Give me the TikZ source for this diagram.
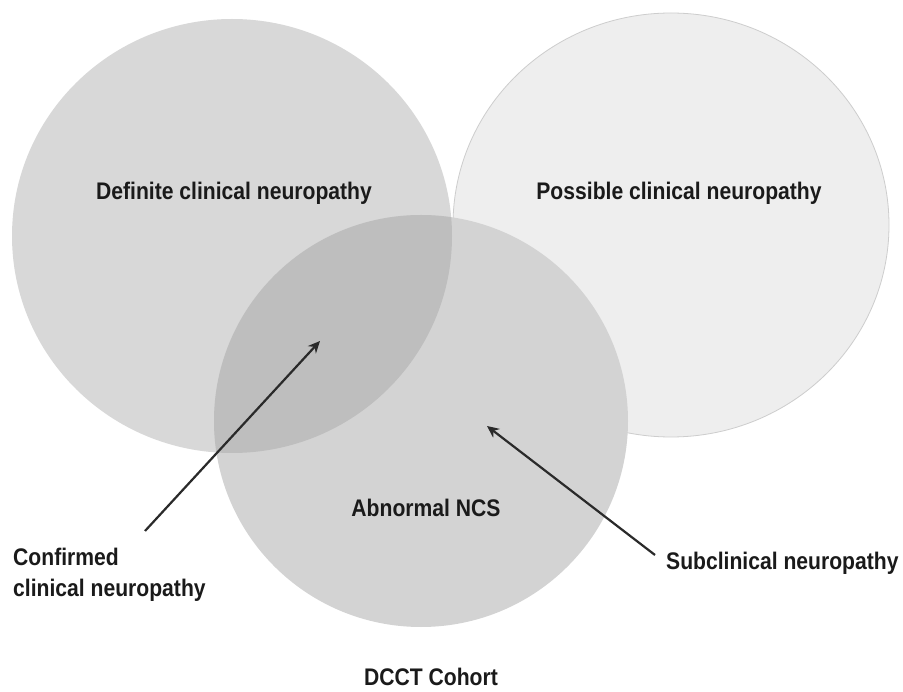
\documentclass[tikz,border=0pt]{standalone}
\usepackage{fontspec}
\setmainfont{Liberation Sans}
\usetikzlibrary{arrows.meta}
\definecolor{leftc}{HTML}{D8D8D8}
\definecolor{rightc}{HTML}{EEEEEE}
\definecolor{rightedge}{HTML}{CDCDCD}
\definecolor{botc}{HTML}{D3D3D3}
\definecolor{lensc}{HTML}{BEBEBE}
\definecolor{txt}{HTML}{1A1A1A}
\definecolor{arr}{HTML}{2A2A2A}
\newcommand{\lbl}[1]{\scalebox{0.88}[1]{#1}}
\tikzset{
  label text/.style={font=\fontsize{24}{30}\selectfont\bfseries, text=txt, inner sep=0pt},
  pointer/.style={draw=arr, line width=2.2pt, -{Stealth[length=12pt,width=11pt,inset=4pt]}}
}
\begin{document}
\begin{tikzpicture}[x=1pt,y=-1pt]
\useasboundingbox (0,0) rectangle (903,692);
\fill[white] (0,0) rectangle (903,692);
% circles
\fill[leftc] (232,236) ellipse [x radius=220, y radius=217];
\fill[rightc, draw=rightedge, line width=0.8pt] (671,225) ellipse [x radius=218, y radius=212];
\fill[botc] (421,421) ellipse [x radius=207, y radius=206];
\begin{scope}
  \clip (232,236) ellipse [x radius=220, y radius=217];
  \fill[lensc] (421,421) ellipse [x radius=207, y radius=206];
\end{scope}
% labels
\node[label text] (def) at (234,193) {\lbl{Definite clinical neuropathy}};
\node[label text] (pos) at (679,193) {\lbl{Possible clinical neuropathy}};
\node[label text] (ncs) at (426,508) {\lbl{Abnormal NCS}};
\node[label text, anchor=west] (conf1) at (13,557) {\lbl{Confirmed}};
\node[label text, anchor=west] (conf2) at (13,590) {\lbl{clinical neuropathy}};
\node[label text, anchor=west] (sub) at (666,563) {\lbl{Subclinical neuropathy}};
\node[label text, anchor=base] (dcct) at (431,685) {\lbl{DCCT Cohort}};
% arrows
\coordinate (a1s) at (145,531);
\coordinate (a1e) at (320,341);
\coordinate (a2s) at (655,555);
\coordinate (a2e) at (487,426);
\draw[pointer] (a1s) -- (a1e);
\draw[pointer] (a2s) -- (a2e);
\end{tikzpicture}
\end{document}
